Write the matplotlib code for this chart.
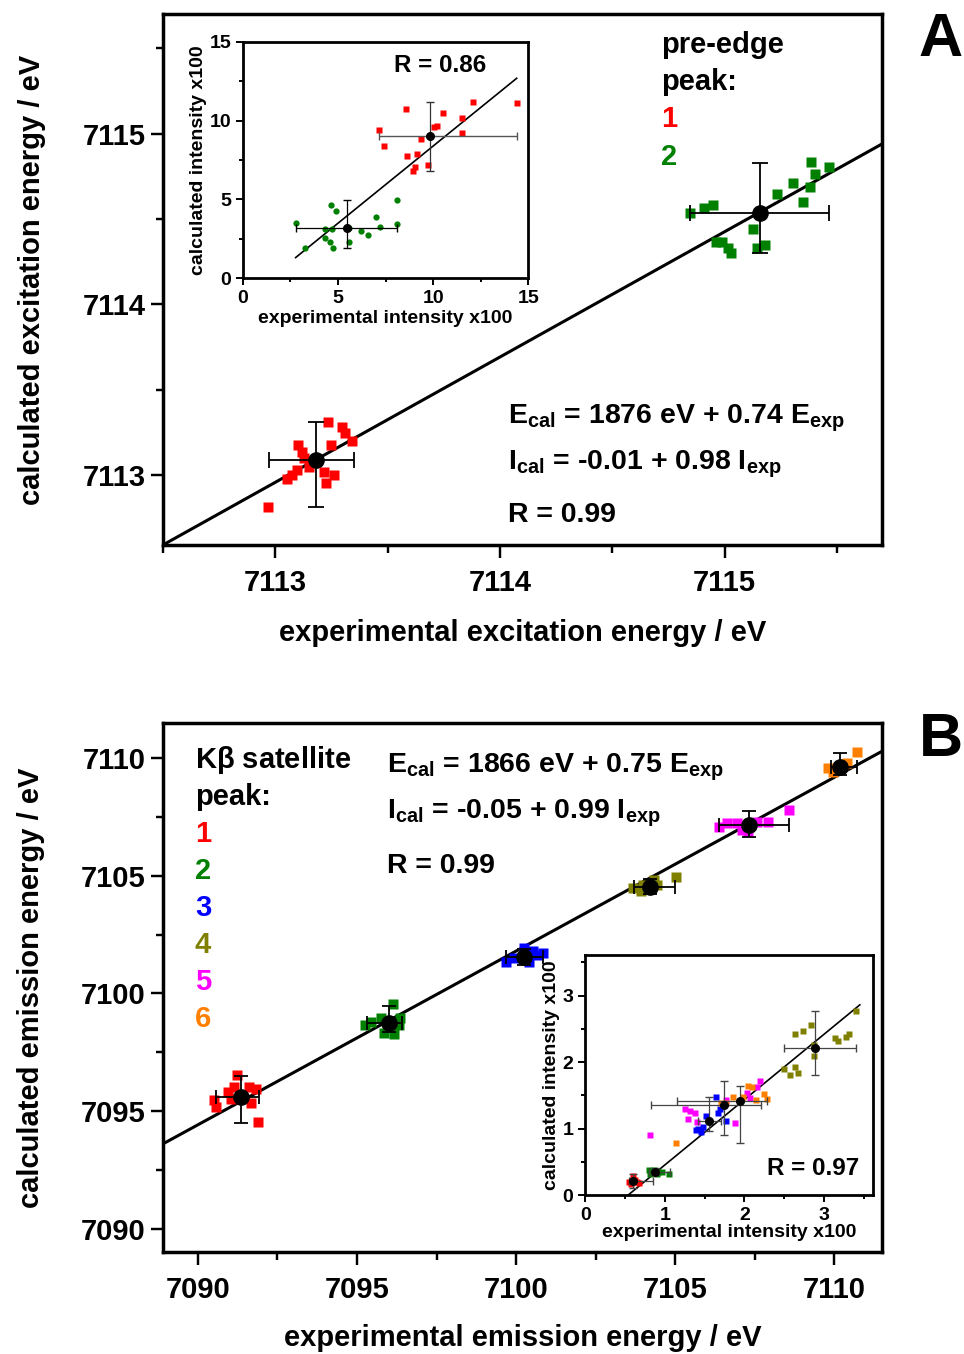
import matplotlib.pyplot as plt
import numpy as np

plt.rcParams['font.family'] = ['Liberation Sans', 'DejaVu Sans']
plt.rcParams['font.weight'] = 'bold'
plt.rcParams['mathtext.fontset'] = 'custom'
plt.rcParams['mathtext.rm'] = 'Liberation Sans:bold'
plt.rcParams['mathtext.bf'] = 'Liberation Sans:bold'
plt.rcParams['mathtext.it'] = 'Liberation Sans:bold'

## Panel A data: pre-edge peaks (eV)
a1_x = [7113.236, 7113.298, 7113.312, 7113.343, 7113.102, 7113.120, 7113.249, 7113.129,
        7113.151, 7113.098, 7113.076, 7113.053, 7113.218, 7113.263, 7113.227, 7112.969]
a1_y = [7113.310, 7113.281, 7113.246, 7113.199, 7113.175, 7113.135, 7113.175, 7113.099,
        7113.047, 7113.029, 7113.000, 7112.977, 7113.018, 7113.000, 7112.953, 7112.813]
a2_x = [7114.844, 7114.906, 7114.947, 7114.960, 7114.987, 7115.013, 7115.027, 7115.125, 7115.143,
        7115.178, 7115.232, 7115.303, 7115.347, 7115.379, 7115.401, 7115.383, 7115.463]
a2_y = [7114.538, 7114.567, 7114.585, 7114.363, 7114.363, 7114.333, 7114.298, 7114.444, 7114.333,
        7114.345, 7114.649, 7114.713, 7114.602, 7114.690, 7114.766, 7114.836, 7114.807]
a_mean_x = [7113.18, 7115.156]
a_mean_y = [7113.09, 7114.538]
a_xlo = [7112.97, 7114.844]
a_xhi = [7113.35, 7115.463]
a_ylo = [7112.81, 7114.298]
a_yhi = [7113.31, 7114.830]
a_fit_x = [7112.5, 7115.7]
a_fit_y = [7112.59, 7114.94]

## Panel A inset: intensities x100
ai1_x = [7.16, 7.39, 8.56, 8.65, 9.35, 9.17, 8.96, 9.05, 9.75, 10.06, 10.19, 10.54, 11.50, 11.50, 12.08, 14.39]
ai1_y = [9.40, 8.39, 10.71, 7.75, 8.81, 7.88, 6.82, 7.08, 7.18, 9.57, 9.66, 10.46, 10.14, 9.23, 11.20, 11.13]
ai2_x = [2.77, 3.24, 4.32, 4.31, 4.61, 4.59, 4.71, 4.67, 4.90, 5.58, 5.55, 6.20, 6.58, 6.98, 7.19, 8.12, 8.12]
ai2_y = [3.49, 1.94, 2.54, 3.13, 4.65, 2.28, 1.94, 3.13, 4.25, 3.21, 2.28, 3.02, 2.73, 3.89, 3.25, 4.97, 3.47]
ai_mean_x = [9.84, 5.46]
ai_mean_y = [9.02, 3.17]
ai_xlo = [7.16, 2.77]
ai_xhi = [14.39, 8.12]
ai_ylo = [6.82, 1.94]
ai_yhi = [11.20, 4.97]
ai_fit_x = [2.77, 14.39]
ai_fit_y = [1.31, 12.68]

## Panel B data: Kbeta satellite peaks (eV)
b_x = [
    [7091.22, 7091.13, 7091.60, 7091.82, 7090.94, 7090.50, 7090.57, 7091.04, 7091.66, 7091.88],
    [7096.12, 7096.34, 7095.24, 7095.43, 7095.84, 7096.15, 7096.31, 7095.75],
    [7099.67, 7100.24, 7100.52, 7100.83, 7099.92, 7100.39, 7100.68],
    [7103.66, 7103.91, 7104.44, 7104.32, 7105.01, 7104.00],
    [7106.36, 7106.64, 7107.11, 7107.58, 7107.90, 7108.56, 7106.95, 7107.30],
    [7109.81, 7110.41, 7110.72, 7109.97, 7110.28],
]
b_y = [
    [7096.54, 7096.03, 7096.03, 7095.94, 7095.82, 7095.48, 7095.18, 7095.52, 7095.35, 7094.54],
    [7099.55, 7098.96, 7098.66, 7098.79, 7098.32, 7098.28, 7098.66, 7098.96],
    [7101.34, 7101.93, 7101.80, 7101.72, 7101.51, 7101.34, 7101.63],
    [7104.48, 7104.35, 7104.61, 7104.82, 7104.95, 7104.61],
    [7107.07, 7107.24, 7106.94, 7107.28, 7107.28, 7107.79, 7107.24, 7106.86],
    [7109.58, 7109.79, 7110.25, 7109.41, 7109.70],
]
b_mean_x = [7091.35, 7096.00, 7100.24, 7104.22, 7107.33, 7110.19]
b_mean_y = [7095.61, 7098.75, 7101.55, 7104.52, 7107.15, 7109.62]
b_xlo = [7090.57, 7095.31, 7099.67, 7103.69, 7106.36, 7109.91]
b_xhi = [7091.92, 7096.41, 7100.83, 7104.98, 7108.59, 7110.72]
b_ylo = [7094.50, 7098.37, 7101.20, 7104.22, 7106.65, 7109.28]
b_yhi = [7096.50, 7099.47, 7101.90, 7104.86, 7107.75, 7110.21]
b_fit_x = [7088.9, 7111.5]
b_fit_y = [7093.60, 7110.30]

## Panel B inset: intensities x100
bi_x = [
    [0.55, 0.60, 0.65, 0.58, 0.62, 0.68],
    [0.80, 0.85, 0.92, 0.97, 1.05, 0.82, 0.90, 0.86],
    [1.64, 1.52, 1.67, 1.69, 1.42, 1.45, 1.48, 1.77, 1.39],
    [2.63, 2.74, 2.84, 2.87, 2.88, 2.50, 2.57, 2.63, 2.67, 3.14, 3.18, 3.28, 3.31, 3.40],
    [0.82, 1.26, 1.32, 1.38, 1.29, 1.41, 1.88, 1.77, 2.19, 2.16, 2.03, 2.07],
    [1.14, 1.71, 1.86, 2.05, 2.10, 1.98, 2.24, 2.29, 2.15, 1.77],
]
bi_y = [
    [0.19, 0.28, 0.19, 0.17, 0.22, 0.18],
    [0.38, 0.36, 0.35, 0.35, 0.32, 0.32, 0.32, 0.38],
    [1.47, 1.19, 1.24, 1.29, 1.00, 0.95, 1.03, 1.12, 0.98],
    [2.42, 2.46, 2.56, 2.26, 2.09, 1.89, 1.81, 1.92, 1.83, 2.36, 2.32, 2.37, 2.42, 2.77],
    [0.90, 1.29, 1.27, 1.24, 1.15, 1.10, 1.09, 1.43, 1.72, 1.63, 1.53, 1.46],
    [0.78, 1.38, 1.48, 1.64, 1.63, 1.48, 1.52, 1.45, 1.43, 1.38],
]
bi_mean_x = [0.605, 0.88, 1.56, 2.89, 1.75, 1.94]
bi_mean_y = [0.21, 0.35, 1.12, 2.21, 1.36, 1.42]
bi_xlo = [0.55, 0.80, 1.42, 2.50, 0.83, 1.15]
bi_xhi = [0.85, 1.06, 1.70, 3.40, 2.21, 2.28]
bi_ylo = [0.10, 0.30, 0.97, 1.81, 0.90, 0.78]
bi_yhi = [0.32, 0.40, 1.47, 2.77, 1.71, 1.64]
bi_fit_x = [0.51, 3.45]
bi_fit_y = [-0.03, 2.86]

colors = ['#ff0000', '#008000', '#0000ff', '#808000', '#ff00ff', '#ff8000']

MAIN_FS = 21
INSET_FS = 14


def style_axes(ax, lw, tick_len, labelsize):
    for s in ax.spines.values():
        s.set_linewidth(lw)
    ax.tick_params(which='major', direction='out', length=tick_len, width=lw * 0.7,
                   labelsize=labelsize, top=False, right=False)
    ax.tick_params(which='minor', direction='out', length=tick_len * 0.6, width=lw * 0.7,
                   top=False, right=False)
    for lab in ax.get_xticklabels() + ax.get_yticklabels():
        lab.set_fontweight('bold')


def errs(mx, my, xlo, xhi, ylo, yhi):
    mx, my = np.array(mx), np.array(my)
    xe = [mx - np.array(xlo), np.array(xhi) - mx]
    ye = [my - np.array(ylo), np.array(yhi) - my]
    return xe, ye


fig = plt.figure(figsize=(9.64, 13.54), dpi=100)

## Panel A
ax = fig.add_axes([0.169, 0.5975, 0.746, 0.392])
ax.plot(a_fit_x, a_fit_y, color='black', lw=2.2, zorder=2)
ax.plot(a1_x, a1_y, 's', color=colors[0], ms=7, mec='none', zorder=3)
ax.plot(a2_x, a2_y, 's', color=colors[1], ms=7, mec='none', zorder=3)
xe, ye = errs(a_mean_x, a_mean_y, a_xlo, a_xhi, a_ylo, a_yhi)
ax.errorbar(a_mean_x, a_mean_y, xerr=xe, yerr=ye, fmt='o', color='black', ms=11,
            elinewidth=1.3, capsize=6, capthick=1.3, zorder=4)
ax.set_xlim(7112.5, 7115.7)
ax.set_ylim(7112.59, 7115.7)
ax.set_xticks([7113, 7114, 7115])
ax.set_xticks([7112.5, 7113.5, 7114.5, 7115.5], minor=True)
ax.set_yticks([7113, 7114, 7115])
ax.set_yticks([7113.5, 7114.5, 7115.5], minor=True)
ax.set_xticklabels(['7113', '7114', '7115'])
ax.set_yticklabels(['7113', '7114', '7115'])
style_axes(ax, 2.5, 9, MAIN_FS)
ax.tick_params(axis='x', pad=8)
ax.set_xlabel('experimental excitation energy / eV', fontsize=MAIN_FS, fontweight='bold', labelpad=16)
ax.set_ylabel('calculated excitation energy / eV', fontsize=MAIN_FS, fontweight='bold', labelpad=26)

ax.text(0.693, 0.942, 'pre-edge', transform=ax.transAxes, fontsize=MAIN_FS, va='center')
ax.text(0.693, 0.872, 'peak:', transform=ax.transAxes, fontsize=MAIN_FS, va='center')
ax.text(0.693, 0.802, '1', transform=ax.transAxes, fontsize=MAIN_FS, va='center', color=colors[0])
ax.text(0.693, 0.731, '2', transform=ax.transAxes, fontsize=MAIN_FS, va='center', color=colors[1])
ax.text(0.480, 0.239, r'E$_{\rm cal}$ = 1876 eV + 0.74 E$_{\rm exp}$', transform=ax.transAxes,
        fontsize=20.5, va='center')
ax.text(0.480, 0.151, r'I$_{\rm cal}$ = -0.01 + 0.98 I$_{\rm exp}$', transform=ax.transAxes,
        fontsize=20.5, va='center')
ax.text(0.480, 0.0565, 'R = 0.99', transform=ax.transAxes, fontsize=20.5, va='center')
fig.text(0.976, 0.970, 'A', fontsize=44, ha='center', va='center')

## Panel A inset
ax = fig.add_axes([0.252, 0.7945, 0.296, 0.1747])
ax.plot(ai_fit_x, ai_fit_y, color='black', lw=1.2, zorder=2)
ax.plot(ai1_x, ai1_y, 's', color=colors[0], ms=4, mec='none', zorder=3)
ax.plot(ai2_x, ai2_y, 'o', color=colors[1], ms=4.5, mec='none', zorder=3)
xe, ye = errs(ai_mean_x, ai_mean_y, ai_xlo, ai_xhi, ai_ylo, ai_yhi)
ax.errorbar(ai_mean_x[:1], ai_mean_y[:1], xerr=[xe[0][:1], xe[1][:1]], fmt='none',
            ecolor='#555555', elinewidth=1, capsize=3, zorder=4)
ax.errorbar(ai_mean_x[:1], ai_mean_y[:1], yerr=[ye[0][:1], ye[1][:1]], fmt='none',
            ecolor='#333333', elinewidth=0.9, capsize=3, zorder=4)
ax.errorbar(ai_mean_x[1:], ai_mean_y[1:], xerr=[xe[0][1:], xe[1][1:]],
            yerr=[ye[0][1:], ye[1][1:]], fmt='none', ecolor='black', elinewidth=0.9, capsize=3, zorder=4)
ax.plot(ai_mean_x, ai_mean_y, 'o', color='black', ms=5.5, zorder=5)
ax.set_xlim(0, 15)
ax.set_ylim(0, 15)
ax.set_xticks([0, 5, 10, 15])
ax.set_xticks([2.5, 7.5, 12.5], minor=True)
ax.set_yticks([0, 5, 10, 15])
ax.set_yticks([2.5, 7.5, 12.5], minor=True)
style_axes(ax, 2.0, 5, INSET_FS)
ax.set_xlabel('experimental intensity x100', fontsize=INSET_FS, fontweight='bold', labelpad=2)
ax.set_ylabel('calculated intensity x100', fontsize=INSET_FS, fontweight='bold', labelpad=2)
ax.text(0.69, 0.90, 'R = 0.86', transform=ax.transAxes, fontsize=17.5, ha='center', va='center')

## Panel B
ax = fig.add_axes([0.169, 0.0753, 0.746, 0.3907])
ax.plot(b_fit_x, b_fit_y, color='black', lw=2.2, zorder=2)
for i in range(6):
    ax.plot(b_x[i], b_y[i], 's', color=colors[i], ms=7, mec='none', zorder=3)
xe, ye = errs(b_mean_x, b_mean_y, b_xlo, b_xhi, b_ylo, b_yhi)
ax.errorbar(b_mean_x, b_mean_y, xerr=xe, yerr=ye, fmt='o', color='black', ms=11,
            elinewidth=1.3, capsize=5, capthick=1.3, zorder=4)
ax.set_xlim(7088.9, 7111.5)
ax.set_ylim(7089.0, 7111.5)
ax.set_xticks([7090, 7095, 7100, 7105, 7110])
ax.set_xticks([7092.5, 7097.5, 7102.5, 7107.5], minor=True)
ax.set_yticks([7090, 7095, 7100, 7105, 7110])
ax.set_yticks([7092.5, 7097.5, 7102.5, 7107.5], minor=True)
ax.set_xticklabels(['7090', '7095', '7100', '7105', '7110'])
ax.set_yticklabels(['7090', '7095', '7100', '7105', '7110'])
style_axes(ax, 2.5, 9, MAIN_FS)
ax.tick_params(axis='x', pad=8)
ax.set_xlabel('experimental emission energy / eV', fontsize=MAIN_FS, fontweight='bold', labelpad=15)
ax.set_ylabel('calculated emission energy / eV', fontsize=MAIN_FS, fontweight='bold', labelpad=26)

ax.text(0.0445, 0.930, r'K$\beta$ satellite', transform=ax.transAxes, fontsize=MAIN_FS, va='center')
ax.text(0.0445, 0.860, 'peak:', transform=ax.transAxes, fontsize=MAIN_FS, va='center')
for i in range(6):
    ax.text(0.0445, 0.790 - 0.07 * i, str(i + 1), transform=ax.transAxes, fontsize=MAIN_FS,
            va='center', color=colors[i])
ax.text(0.3115, 0.917, r'E$_{\rm cal}$ = 1866 eV + 0.75 E$_{\rm exp}$', transform=ax.transAxes,
        fontsize=20.5, va='center')
ax.text(0.3115, 0.830, r'I$_{\rm cal}$ = -0.05 + 0.99 I$_{\rm exp}$', transform=ax.transAxes,
        fontsize=20.5, va='center')
ax.text(0.3115, 0.730, 'R = 0.99', transform=ax.transAxes, fontsize=20.5, va='center')
fig.text(0.976, 0.453, 'B', fontsize=44, ha='center', va='center')

## Panel B inset
ax = fig.add_axes([0.607, 0.1174, 0.299, 0.1773])
ax.plot(bi_fit_x, bi_fit_y, color='black', lw=1.2, zorder=2)
for i in range(6):
    ax.plot(bi_x[i], bi_y[i], 's', color=colors[i], ms=4, mec='none', zorder=3)
xe, ye = errs(bi_mean_x, bi_mean_y, bi_xlo, bi_xhi, bi_ylo, bi_yhi)
ax.errorbar(bi_mean_x, bi_mean_y, xerr=xe, yerr=ye, fmt='none', ecolor='#444444',
            elinewidth=0.9, capsize=3, zorder=4)
ax.plot(bi_mean_x, bi_mean_y, 'o', color='black', ms=5.5, zorder=5)
ax.set_xlim(0, 3.62)
ax.set_ylim(0, 3.61)
ax.set_xticks([0, 1, 2, 3])
ax.set_xticks([0.5, 1.5, 2.5, 3.5], minor=True)
ax.set_yticks([0, 1, 2, 3])
ax.set_yticks([0.5, 1.5, 2.5, 3.5], minor=True)
style_axes(ax, 2.0, 5, INSET_FS)
ax.set_xlabel('experimental intensity x100', fontsize=INSET_FS, fontweight='bold', labelpad=0)
ax.set_ylabel('calculated intensity x100', fontsize=INSET_FS, fontweight='bold', labelpad=2)
ax.text(0.79, 0.11, 'R = 0.97', transform=ax.transAxes, fontsize=17.5, ha='center', va='center')

fig.savefig('out.png', dpi=100)
